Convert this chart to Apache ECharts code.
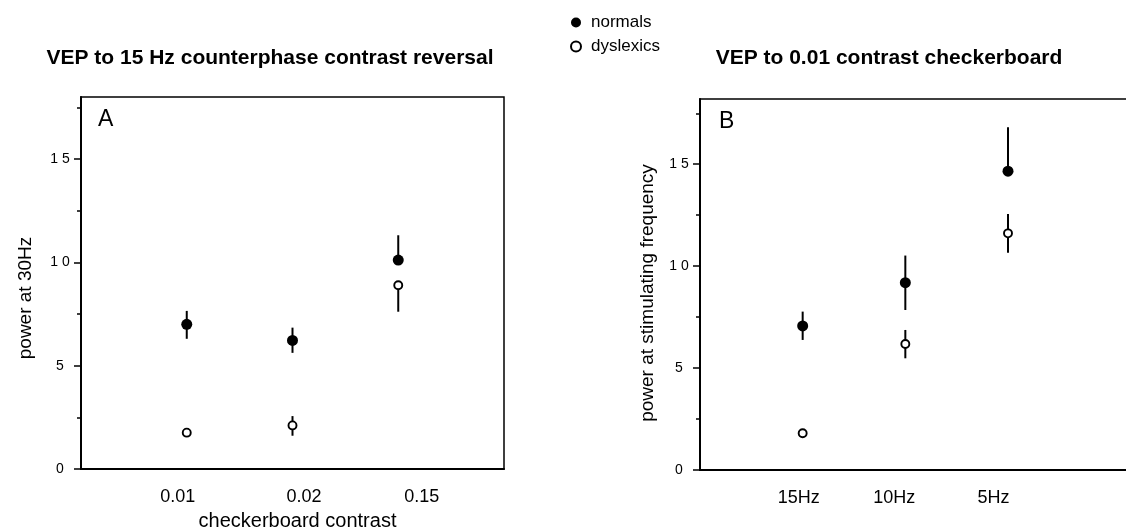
<!DOCTYPE html>
<html>
<head>
<meta charset="utf-8">
<script src="https://cdn.jsdelivr.net/npm/echarts@6/dist/echarts.min.js"></script>
<style>
  html, body { margin: 0; padding: 0; background: #fff; }
  #chart { width: 1126px; height: 530px; }
</style>
</head>
<body>
<div id="chart"></div>
<script>
// ---- data ----
const titleA = 'VEP to 15 Hz counterphase contrast reversal';
const titleB = 'VEP to 0.01 contrast checkerboard';
const categoriesA = ['0.01', '0.02', '0.15'];
const categoriesB = ['15Hz', '10Hz', '5Hz'];
const seriesNames = ['normals', 'dyslexics'];

// Panel A: power at 30Hz
const normalsA = [7.0, 6.22, 10.11];
const normalsAErrUp = [0.65, 0.62, 1.2];
const normalsAErrDown = [0.7, 0.6, 0];
const dyslexicsA = [1.76, 2.11, 8.89];
const dyslexicsAErrUp = [0, 0.45, 0];
const dyslexicsAErrDown = [0, 0.5, 1.28];

// Panel B: power at stimulating frequency
const normalsB = [7.07, 9.19, 14.66];
const normalsBErrUp = [0.7, 1.33, 2.16];
const normalsBErrDown = [0.69, 1.34, 0];
const dyslexicsB = [1.80, 6.18, 11.61];
const dyslexicsBErrUp = [0, 0.69, 0.95];
const dyslexicsBErrDown = [0, 0.7, 0.95];

// y-axis ticks
const yMajorTicks = [0, 5, 10, 15];
const yMinorTicks = [2.5, 7.5, 12.5, 17.5];

// ---- build ----
const FONT = "'Liberation Sans', Arial, Helvetica, sans-serif";
const toPoints = vals => vals.map((v, i) => [i + 1, v]);
const toErr = (vals, up, down) => vals.map((v, i) => [i + 1, v - down[i], v + up[i]]);

function errSeries(idx, data) {
  return {
    type: 'custom', xAxisIndex: idx, yAxisIndex: idx, silent: true, z: 1,
    data: data,
    encode: { x: 0, y: [1, 2] },
    renderItem: function (params, api) {
      const p1 = api.coord([api.value(0), api.value(1)]);
      const p2 = api.coord([api.value(0), api.value(2)]);
      return { type: 'line', shape: { x1: p1[0], y1: p1[1], x2: p2[0], y2: p2[1] },
               style: { stroke: '#000', lineWidth: 2 } };
    }
  };
}
function filledSeries(idx, data) {
  return { name: seriesNames[0], type: 'scatter', xAxisIndex: idx, yAxisIndex: idx, z: 3,
    symbol: 'circle', symbolSize: 11, itemStyle: { color: '#000', opacity: 1 }, data: data };
}
function openSeries(idx, data) {
  return { name: seriesNames[1], type: 'scatter', xAxisIndex: idx, yAxisIndex: idx, z: 3,
    symbol: 'circle', symbolSize: 8, itemStyle: { color: '#fff', borderColor: '#000', borderWidth: 1.9, opacity: 1 }, data: data };
}

// main y axis: axis line, minor ticks, name
function yAxisMain(gridIndex, max, name, padRight, gap) {
  return {
    type: 'value', gridIndex: gridIndex, position: 'left', min: 0, max: max, interval: 2.5,
    name: name, nameLocation: 'middle', nameGap: gap,
    nameTextStyle: { fontFamily: FONT, fontSize: 19, color: '#000', padding: [0, padRight, 0, 0] },
    axisLine: { show: true, lineStyle: { color: '#000', width: 2 } },
    axisTick: { show: true, inside: false, length: 4, customValues: yMinorTicks,
                lineStyle: { color: '#000', width: 1.5 } },
    splitLine: { show: false },
    axisLabel: { show: false }
  };
}
// overlay y axis: major ticks and labels
function yAxisMajor(gridIndex, max) {
  return {
    type: 'value', gridIndex: gridIndex, position: 'left', offset: 0, min: 0, max: max, interval: 5,
    axisLine: { show: false },
    axisTick: { show: true, inside: false, length: 7, customValues: yMajorTicks,
                lineStyle: { color: '#000', width: 1.5 } },
    splitLine: { show: false },
    axisLabel: {
      customValues: yMajorTicks,
      align: 'center', margin: 21, fontFamily: FONT, fontSize: 14, color: '#000',
      formatter: v => yMajorTicks.indexOf(v) >= 0 ? String(v).split('').join(' ') : ''
    }
  };
}

function xAxis(gridIndex, max, cats, rich, name) {
  const ax = {
    type: 'value', gridIndex: gridIndex, min: 0, max: max, interval: 1,
    axisLine: { show: true, lineStyle: { color: '#000', width: 2 } },
    axisTick: { show: false },
    splitLine: { show: false },
    axisLabel: {
      margin: 19, fontFamily: FONT, fontSize: 18, color: '#000',
      formatter: v => (v >= 1 && v <= cats.length && Number.isInteger(v)) ? '{c' + (v - 1) + '|' + cats[v - 1] + '}' : '',
      rich: rich
    }
  };
  if (name) {
    ax.name = name; ax.nameLocation = 'middle'; ax.nameGap = 42;
    ax.nameTextStyle = { fontFamily: FONT, fontSize: 20, color: '#000', padding: [0, 0, 0, 10] };
  }
  return ax;
}

const lbl = { fontFamily: FONT, fontSize: 18, color: '#000' };
const richA = {
  c0: Object.assign({ padding: [0, 18, 0, 0] }, lbl),
  c1: Object.assign({ padding: [0, 0, 0, 23] }, lbl),
  c2: Object.assign({ padding: [0, 0, 0, 47] }, lbl)
};
const richB = {
  c0: Object.assign({ padding: [0, 8, 0, 0] }, lbl),
  c1: Object.assign({ padding: [0, 22, 0, 0] }, lbl),
  c2: Object.assign({ padding: [0, 29, 0, 0] }, lbl)
};

const option = {
  animation: false,
  backgroundColor: '#fff',
  title: [
    { text: titleA, left: 270, top: 48, textAlign: 'center', padding: 0,
      textStyle: { fontFamily: FONT, fontSize: 21, fontWeight: 'bold', color: '#000' } },
    { text: titleB, left: 889, top: 48, textAlign: 'center', padding: 0,
      textStyle: { fontFamily: FONT, fontSize: 21, fontWeight: 'bold', color: '#000' } },
    { text: 'A', left: 98, top: 108, padding: 0,
      textStyle: { fontFamily: FONT, fontSize: 23, fontWeight: 'normal', color: '#000' } },
    { text: 'B', left: 719, top: 110, padding: 0,
      textStyle: { fontFamily: FONT, fontSize: 23, fontWeight: 'normal', color: '#000' } }
  ],
  legend: {
    data: seriesNames, orient: 'vertical', left: 570, top: 14, padding: 0,
    itemWidth: 20, itemHeight: 10, itemGap: 7, icon: 'circle',
    textStyle: { fontFamily: FONT, fontSize: 17, color: '#000' }
  },
  grid: [
    { left: 81, top: 97, width: 423, height: 372, show: true, borderColor: '#000', borderWidth: 1.5,
      containLabel: false, outerBoundsMode: 'none' },
    { left: 700, top: 99, width: 462, height: 371, show: true, borderColor: '#000', borderWidth: 1.5,
      containLabel: false, outerBoundsMode: 'none' }
  ],
  xAxis: [
    xAxis(0, 4, categoriesA, richA, 'checkerboard contrast'),
    xAxis(1, 4.5, categoriesB, richB, null)
  ],
  yAxis: [
    yAxisMain(0, 18, 'power at 30Hz', 30, 46),
    yAxisMain(1, 18.2, 'power at stimulating frequency', 17, 43),
    yAxisMajor(0, 18),
    yAxisMajor(1, 18.2)
  ],
  series: [
    errSeries(0, toErr(normalsA, normalsAErrUp, normalsAErrDown)),
    errSeries(0, toErr(dyslexicsA, dyslexicsAErrUp, dyslexicsAErrDown)),
    filledSeries(0, toPoints(normalsA)),
    openSeries(0, toPoints(dyslexicsA)),
    errSeries(1, toErr(normalsB, normalsBErrUp, normalsBErrDown)),
    errSeries(1, toErr(dyslexicsB, dyslexicsBErrUp, dyslexicsBErrDown)),
    filledSeries(1, toPoints(normalsB)),
    openSeries(1, toPoints(dyslexicsB))
  ]
};

const chart = echarts.init(document.getElementById('chart'), null, { renderer: 'canvas' });
chart.setOption(option);
</script>
</body>
</html>
